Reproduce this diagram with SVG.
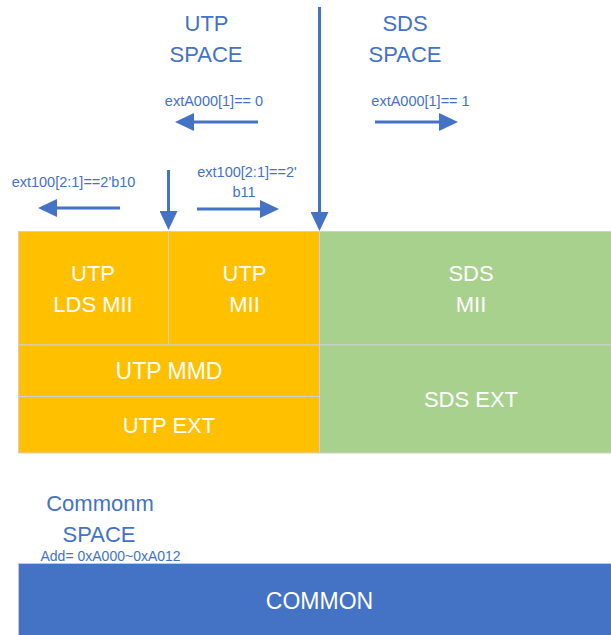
<svg xmlns="http://www.w3.org/2000/svg" width="611" height="635" viewBox="0 0 611 635">
<style>
.lbl{font-family:"Liberation Sans",Arial,sans-serif;fill:#4472C4;text-anchor:middle}
.big{font-size:22px}
.sm{font-size:14.5px}
.nt{font-family:"Liberation Sans",Arial,sans-serif;fill:#FFFFFF;font-size:22px;text-anchor:middle}
.org{fill:#FFC000;stroke:#D0D0D0;stroke-width:1}
.grn{fill:#A9D18E;stroke:#D0D0D0;stroke-width:1}
.blu{fill:#4472C4;stroke:#C8C8C8;stroke-width:1}
.arr{stroke:#4472C4;stroke-width:3;fill:none;marker-end:url(#ah)}
</style>
<defs>
<marker id="ah" markerUnits="userSpaceOnUse" markerWidth="19" markerHeight="18" refX="0" refY="9" orient="auto">
<path d="M0,0 L19,9 L0,18 Z" fill="#4472C4"/>
</marker>
</defs>
<rect width="611" height="635" fill="#FFFFFF"/>

<g id="utp-lds-mii"><rect class="org" x="18.5" y="231.5" width="150" height="113.5"/>
<text class="nt" x="93" y="280.5">UTP</text><text class="nt" x="93" y="312">LDS MII</text></g>
<g id="utp-mii"><rect class="org" x="168.5" y="231.5" width="151" height="113.5"/>
<text class="nt" x="244.5" y="280.5">UTP</text><text class="nt" x="244.5" y="312">MII</text></g>
<g id="sds-mii"><rect class="grn" x="319.5" y="231.5" width="292" height="113.5"/>
<text class="nt" x="471" y="280.5">SDS</text><text class="nt" x="471" y="312">MII</text></g>
<g id="utp-mmd"><rect class="org" x="18.5" y="345" width="301" height="51.5"/>
<text class="nt" x="169" y="378.5" style="font-size:23px">UTP MMD</text></g>
<g id="utp-ext"><rect class="org" x="18.5" y="396.5" width="301" height="56.5"/>
<text class="nt" x="169" y="433">UTP EXT</text></g>
<g id="sds-ext"><rect class="grn" x="319.5" y="345" width="292" height="108"/>
<text class="nt" x="471" y="406.5">SDS EXT</text></g>
<g id="common"><rect class="blu" x="18.5" y="563.5" width="593" height="72"/>
<text class="nt" x="319.5" y="608.5" style="font-size:23px">COMMON</text></g>

<g id="labels">
<text class="lbl big" x="206.5" y="30.5">UTP</text>
<text class="lbl big" x="206" y="62">SPACE</text>
<text class="lbl big" x="405" y="30.5">SDS</text>
<text class="lbl big" x="405" y="62">SPACE</text>
<text class="lbl sm" x="214" y="106">extA000[1]== 0</text>
<text class="lbl sm" x="420.5" y="106">extA000[1]== 1</text>
<text class="lbl sm" x="73.5" y="187">ext100[2:1]==2'b10</text>
<text class="lbl sm" x="247" y="177">ext100[2:1]==2'</text>
<text class="lbl sm" x="244" y="196.5">b11</text>
<text class="lbl big" x="100" y="510.5">Commonm</text>
<text class="lbl big" x="99" y="541.5">SPACE</text>
<text class="lbl" x="40.5" y="560.5" style="text-anchor:start;font-size:14px">Add= 0xA000~0xA012</text>
</g>

<g id="connectors">
<line class="arr" x1="258" y1="122" x2="194" y2="122"/>
<line class="arr" x1="375" y1="122" x2="439" y2="122"/>
<line class="arr" x1="120" y1="208" x2="57" y2="208"/>
<line class="arr" x1="197" y1="209" x2="260" y2="209"/>
<line class="arr" x1="168.5" y1="170" x2="168.5" y2="211"/>
<line class="arr" x1="319.5" y1="7" x2="319.5" y2="212"/>
</g>
</svg>
